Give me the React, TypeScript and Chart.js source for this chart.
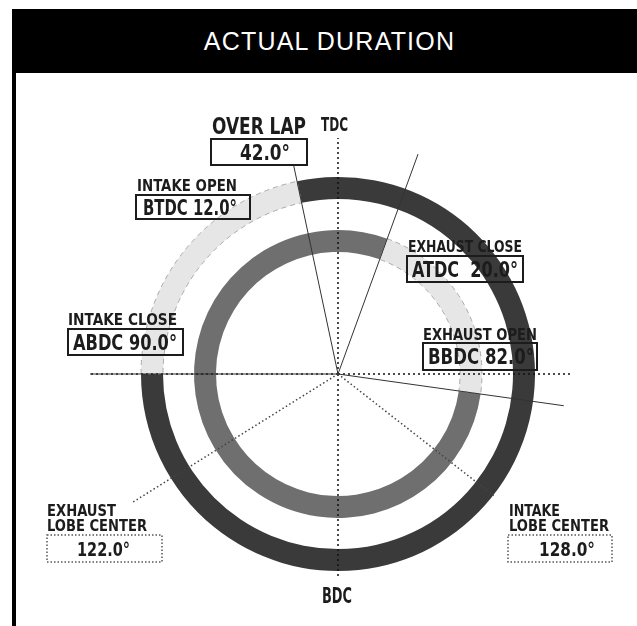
import React, { useEffect, useRef } from "react";
import { Chart, registerables } from "chart.js";

Chart.register(...registerables);

// ---- data (degrees) ----
const ringNames = ["INTAKE", "EXHAUST"];
const eventLabels = ["INTAKE OPEN", "INTAKE CLOSE", "EXHAUST OPEN", "EXHAUST CLOSE"];
const eventRefs = ["BTDC", "ABDC", "BBDC", "ATDC"];
const eventSeparators = [" ", " ", " ", "  "];
const eventDegrees = [12, 90, 82, 20];
const lobeLabels = [
  ["INTAKE", "LOBE CENTER"],
  ["EXHAUST", "LOBE CENTER"],
];
const lobeDegrees = [128, 122];
const overlapDegrees = [42];
const axisLabels = ["TDC", "BDC"];

const intakeDuration = 180 + eventDegrees[0] + eventDegrees[1];
const exhaustDuration = 180 + eventDegrees[2] + eventDegrees[3];

const eventText = (i: number) =>
  `${eventRefs[i]}${eventSeparators[i]}${eventDegrees[i].toFixed(1)}°`;

const FONT = '"DejaVu Sans Condensed", "DejaVu Sans", sans-serif';
const INK = "#1c1c1c";

function fitText(
  ctx: CanvasRenderingContext2D,
  text: string,
  left: number,
  baseline: number,
  size: number,
  width: number
) {
  ctx.save();
  ctx.font = `bold ${size}px ${FONT}`;
  ctx.textAlign = "left";
  ctx.textBaseline = "alphabetic";
  const w = ctx.measureText(text).width || 1;
  ctx.translate(left, baseline);
  ctx.scale(width / w, 1);
  ctx.fillStyle = INK;
  ctx.fillText(text, 0, 0);
  ctx.restore();
}

function box(ctx: CanvasRenderingContext2D, x: number, y: number, w: number, h: number, dotted: boolean) {
  ctx.save();
  if (dotted) {
    ctx.strokeStyle = "#555";
    ctx.lineWidth = 1.5;
    ctx.setLineDash([1.5, 2]);
  } else {
    ctx.strokeStyle = INK;
    ctx.lineWidth = 2;
  }
  ctx.strokeRect(x, y, w, h);
  ctx.restore();
}

const valvePlugin = {
  id: "valveAnnotations",
  afterDatasetsDraw(chart: any) {
    const ctx: CanvasRenderingContext2D = chart.ctx;
    const intakeArc: any = chart.getDatasetMeta(0).data[0];
    const exhaustArc: any = chart.getDatasetMeta(2).data[0];
    const cx = intakeArc.x;
    const cy = intakeArc.y;
    const tdc = -Math.PI / 2;
    const rad = (d: number) => (d * Math.PI) / 180;
    const ray = (ang: number, len: number) => {
      ctx.beginPath();
      ctx.moveTo(cx, cy);
      ctx.lineTo(cx + len * Math.cos(ang), cy + len * Math.sin(ang));
      ctx.stroke();
    };

    // dotted TDC/BDC and horizontal axes
    ctx.save();
    ctx.strokeStyle = "#111";
    ctx.lineWidth = 1.5;
    ctx.setLineDash([2, 3]);
    ray(tdc, 236);
    ray(tdc + Math.PI, 204);
    ray(0, 234);
    ray(Math.PI, 248);
    ctx.restore();

    // lobe centre lines
    ctx.save();
    ctx.strokeStyle = "#444";
    ctx.lineWidth = 1.5;
    ctx.setLineDash([1.5, 2.5]);
    ray(tdc + rad(lobeDegrees[0]), 200);
    ray(tdc - rad(lobeDegrees[1]), 243);
    ctx.restore();

    // valve event lines from the arcs
    ctx.save();
    ctx.strokeStyle = "#333";
    ctx.lineWidth = 1;
    ray(intakeArc.startAngle, 214);
    ray(intakeArc.endAngle, 248);
    ray(exhaustArc.startAngle, 228);
    ray(exhaustArc.endAngle, 234);
    ctx.restore();
  },
  afterDraw(chart: any) {
    const ctx: CanvasRenderingContext2D = chart.ctx;

    // TDC / BDC
    fitText(ctx, axisLabels[0], 321, 131, 20, 27);
    fitText(ctx, axisLabels[1], 322, 603, 21, 30);

    // overlap
    fitText(ctx, "OVER LAP", 212, 134, 23.5, 94);
    box(ctx, 211, 139, 96, 26, false);
    fitText(ctx, `${overlapDegrees[0].toFixed(1)}°`, 240, 160, 22, 50);

    // intake open
    fitText(ctx, eventLabels[0], 137, 191, 15.5, 100);
    box(ctx, 136, 195, 114, 24, false);
    fitText(ctx, eventText(0), 143, 215, 22, 94);

    // intake close
    fitText(ctx, eventLabels[1], 68, 325, 15.5, 109);
    box(ctx, 68, 329, 115, 26, false);
    fitText(ctx, eventText(1), 73, 350, 22, 104);

    // exhaust close
    fitText(ctx, eventLabels[3], 408, 252, 15.5, 114);
    box(ctx, 407, 256, 116, 26, false);
    fitText(ctx, eventText(3), 412, 277, 21.5, 106);

    // exhaust open
    fitText(ctx, eventLabels[2], 423, 340, 15.5, 114);
    box(ctx, 423, 343, 114, 27, false);
    fitText(ctx, eventText(2), 428, 364, 21.5, 106);

    // exhaust lobe center
    fitText(ctx, lobeLabels[1][0], 47, 516, 15, 69);
    fitText(ctx, lobeLabels[1][1], 47, 531, 15, 100);
    box(ctx, 47, 535, 115, 27, true);
    fitText(ctx, `${lobeDegrees[1].toFixed(1)}°`, 77, 556, 19.5, 53);

    // intake lobe center
    fitText(ctx, lobeLabels[0][0], 509, 516, 15, 51);
    fitText(ctx, lobeLabels[0][1], 509, 531, 15, 100);
    box(ctx, 508, 535, 104, 27, true);
    fitText(ctx, `${lobeDegrees[0].toFixed(1)}°`, 539, 556, 19.5, 56);
  },
};

export default function App() {
  const canvasRef = useRef<HTMLCanvasElement | null>(null);

  useEffect(() => {
    if (!canvasRef.current) return;
    const lightDash = (c: any) => (c.dataIndex === 1 ? [5, 4] : []);
    const chart = new Chart(canvasRef.current, {
      type: "doughnut",
      data: {
        labels: ["open", "closed"],
        datasets: [
          {
            label: ringNames[0],
            data: [intakeDuration, 360 - intakeDuration],
            rotation: -eventDegrees[0],
            backgroundColor: ["#3a3a3a", "#e6e6e6"],
            borderColor: ["#3a3a3a", "#aaaaaa"],
            borderWidth: [0, 1],
            borderDash: lightDash,
            weight: 22,
          } as any,
          {
            label: "gap",
            data: [360],
            backgroundColor: "rgba(0,0,0,0)",
            borderWidth: 0,
            weight: 31,
          } as any,
          {
            label: ringNames[1],
            data: [exhaustDuration, 360 - exhaustDuration],
            rotation: 180 - eventDegrees[2],
            backgroundColor: ["#6f6f6f", "#e6e6e6"],
            borderColor: ["#6f6f6f", "#aaaaaa"],
            borderWidth: [0, 1],
            borderDash: lightDash,
            weight: 22,
          } as any,
        ],
      },
      options: {
        responsive: false,
        animation: false,
        events: [],
        radius: 197,
        cutout: `${(122 / 197) * 100}%`,
        layout: { padding: { left: 100, right: 61, top: 150, bottom: 28 } },
        plugins: {
          legend: { display: false },
          tooltip: { enabled: false },
        },
      } as any,
      plugins: [valvePlugin],
    });
    return () => chart.destroy();
  }, []);

  return (
    <div
      style={{
        position: "absolute",
        left: 0,
        top: 0,
        width: 637,
        height: 626,
        background: "#fff",
        overflow: "hidden",
      }}
    >
      <canvas
        ref={canvasRef}
        width={637}
        height={626}
        style={{ position: "absolute", left: 0, top: 0, width: 637, height: 626 }}
      />
      <div
        style={{
          position: "absolute",
          left: 12,
          top: 9,
          width: 4,
          height: 617,
          background: "#000",
        }}
      />
      <div
        style={{
          position: "absolute",
          left: 12,
          top: 9,
          width: 625,
          height: 64,
          background: "#000",
          color: "#fff",
          font: '25px "Liberation Sans", Arial, sans-serif',
          letterSpacing: "1.2px",
          display: "flex",
          alignItems: "center",
          justifyContent: "center",
          paddingLeft: 10,
          boxSizing: "border-box",
        }}
      >
        ACTUAL DURATION
      </div>
    </div>
  );
}
